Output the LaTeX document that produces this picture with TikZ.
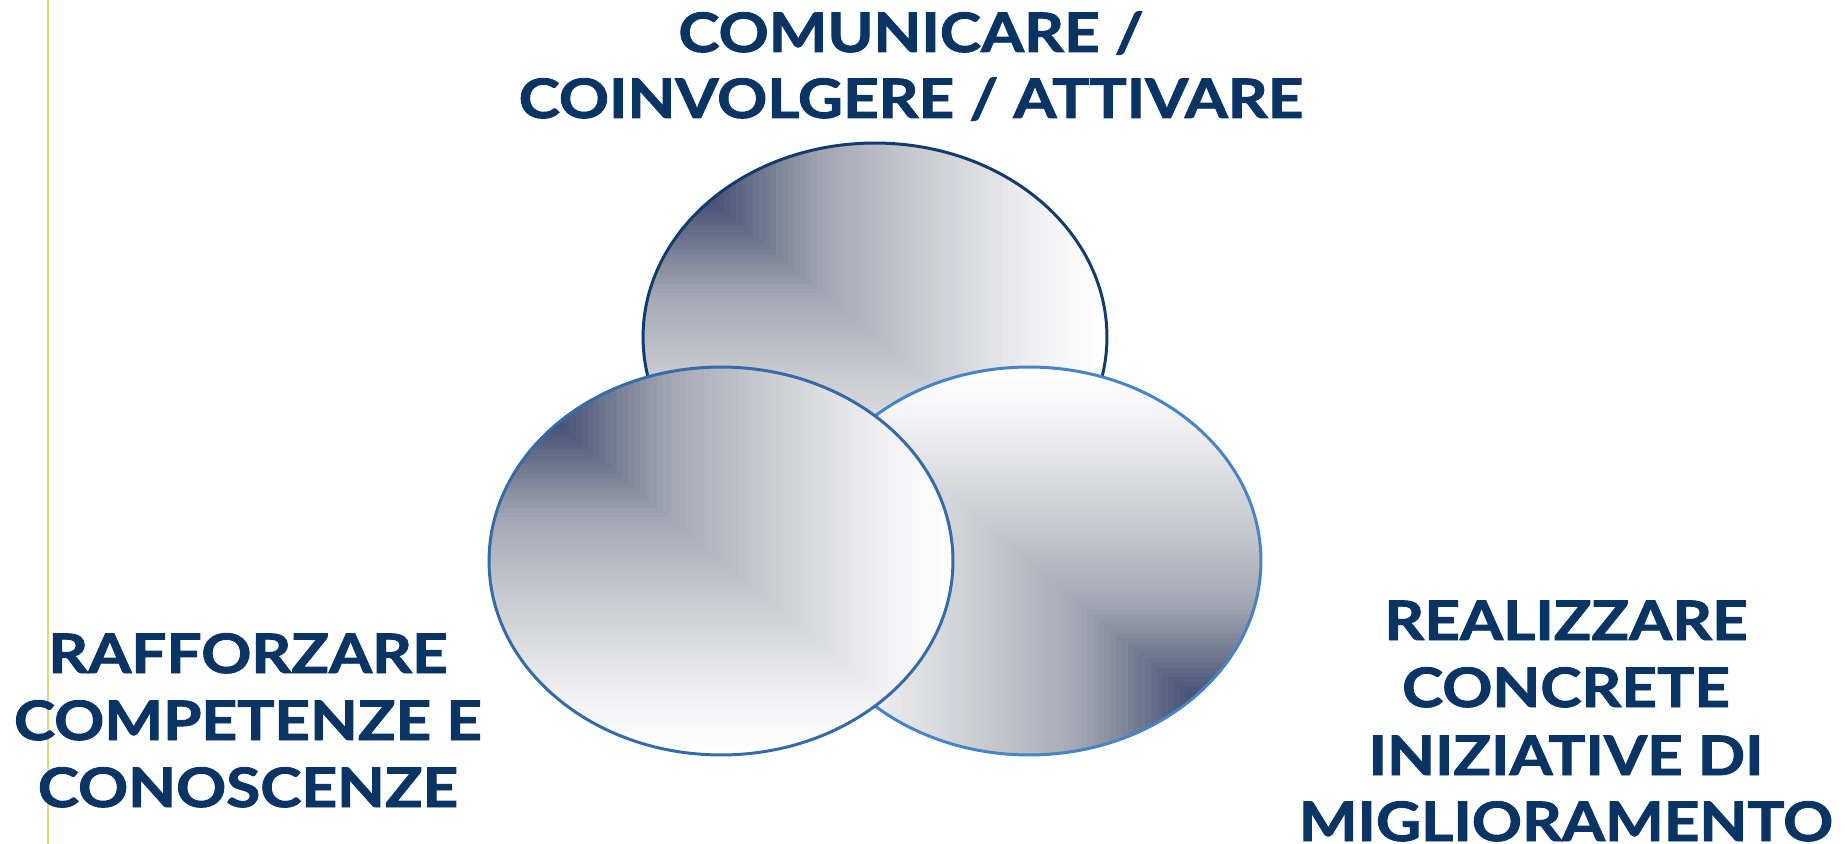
\documentclass[tikz,border=0pt]{standalone}
\usepackage{graphicx}
\usepackage{fontspec}
\setmainfont{Lato}[BoldFeatures={FakeBold=1.6}]
\usetikzlibrary{shapes.geometric,calc}

\definecolor{txtblue}{HTML}{0A3464}
\definecolor{rimtop}{HTML}{123C6E}
\definecolor{rimleft}{HTML}{336CA6}
\definecolor{rimright}{HTML}{4584C6}
\definecolor{rulegreen}{HTML}{D2E279}
% shade stops, corner to far side
\definecolor{gA}{RGB}{68,78,114}
\definecolor{gB}{RGB}{165,168,180}
\definecolor{gC}{RGB}{200,202,207}
\definecolor{gD}{RGB}{240,240,243}
\definecolor{gE}{RGB}{255,255,255}

% sets colour gcol for position \gt (0 = dark corner, 1 = far corner)
\newcommand\pickshade{%
  \ifdim\gt pt<0.15pt \colorlet{gcol}{gA}%
  \else\ifdim\gt pt<0.4pt
    \pgfmathsetmacro\gf{100*(\gt-0.15)/0.25}\colorlet{gcol}{gB!\gf!gA}%
  \else\ifdim\gt pt<0.6pt
    \pgfmathsetmacro\gf{100*(\gt-0.4)/0.2}\colorlet{gcol}{gC!\gf!gB}%
  \else\ifdim\gt pt<0.85pt
    \pgfmathsetmacro\gf{100*(\gt-0.6)/0.25}\colorlet{gcol}{gD!\gf!gC}%
  \else
    \pgfmathsetmacro\gf{100*(\gt-0.85)/0.15}\colorlet{gcol}{gE!\gf!gD}%
  \fi\fi\fi\fi}

% Corner gradient: dark at corner #1, fading to white towards corner #2
\newcommand\cornerfill[2]{%
  \foreach \k in {80,...,0}{%
    \pgfmathsetmacro\gt{\k/80}%
    \pickshade
    \fill[gcol] (path picture bounding box.#1) rectangle
      ($(path picture bounding box.#1)!\gt!(path picture bounding box.#2)$);
  }}

\newcommand\wide[1]{\scalebox{1.14}[1]{#1}}

\tikzset{
  lbl/.style={font=\bfseries\fontsize{31}{38}\selectfont, text=txtblue,
              anchor=base, inner sep=0pt},
  disc/.style={ellipse, draw=#1, line width=1.7pt, minimum width=9.28cm,
               minimum height=7.76cm, inner sep=0pt},
}

\begin{document}
\begin{tikzpicture}[x=0.02cm, y=-0.02cm]
  \useasboundingbox (0,0) rectangle (1845,844);

  % thin vertical rule on the left
  \coordinate (ruletop) at (48,0);
  \coordinate (rulebot) at (48,844);
  \draw[rulegreen, line width=1.7pt] (ruletop) -- (rulebot);

  % three overlapping discs
  \node[disc=rimtop, path picture={\cornerfill{north west}{south east}}]
    (top) at (875,337) {};
  \node[disc=rimright, path picture={\cornerfill{south east}{north west}}]
    (right) at (1029,561) {};
  \node[disc=rimleft, path picture={\cornerfill{north west}{south east}}]
    (left) at (721,561) {};

  % labels
  \node[lbl] (t1) at (911,52)  {\wide{COMUNICARE /}};
  \node[lbl] (t2) at (911,118) {\wide{COINVOLGERE / ATTIVARE}};

  \node[lbl] (l1) at (248,673) {\wide{RAFFORZARE}};
  \node[lbl] (l2) at (248,740) {\wide{COMPETENZE E}};
  \node[lbl] (l3) at (248,807) {\wide{CONOSCENZE}};

  \node[lbl] (r1) at (1566,640) {\wide{REALIZZARE}};
  \node[lbl] (r2) at (1566,707) {\wide{CONCRETE}};
  \node[lbl] (r3) at (1566,775) {\wide{INIZIATIVE DI}};
  \node[lbl] (r4) at (1566,841) {\wide{MIGLIORAMENTO}};
\end{tikzpicture}
\end{document}
